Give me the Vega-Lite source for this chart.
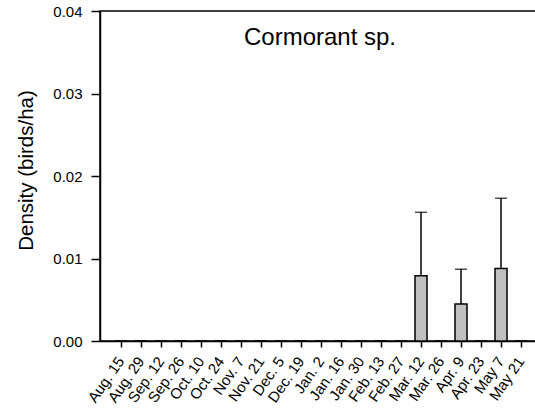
{
  "$schema": "https://vega.github.io/schema/vega-lite/v6.json",
  "width": 440,
  "height": 330,
  "autosize": "none",
  "padding": {"left": 100, "top": 11, "right": 0, "bottom": 71},
  "background": "white",
  "config": {
    "font": "Liberation Sans",
    "view": {"stroke": "black", "strokeWidth": 1.5},
    "axis": {"grid": false, "domainColor": "black", "domainWidth": 1.5, "tickColor": "black", "tickWidth": 1.5, "labelColor": "black", "titleColor": "black", "labelFont": "Liberation Sans", "titleFont": "Liberation Sans", "titleFontWeight": "normal"}
  },
  "title": {"text": "Cormorant sp.", "orient": "top", "anchor": "middle", "frame": "group", "fontSize": 24, "fontWeight": "normal", "font": "Liberation Sans", "color": "black", "baseline": "top", "offset": -46},
  "data": {"values": [
    {"date": "Aug. 15", "density": 0, "upper": null},
    {"date": "Aug. 29", "density": 0, "upper": null},
    {"date": "Sep. 12", "density": 0, "upper": null},
    {"date": "Sep. 26", "density": 0, "upper": null},
    {"date": "Oct. 10", "density": 0, "upper": null},
    {"date": "Oct. 24", "density": 0, "upper": null},
    {"date": "Nov. 7", "density": 0, "upper": null},
    {"date": "Nov. 21", "density": 0, "upper": null},
    {"date": "Dec. 5", "density": 0, "upper": null},
    {"date": "Dec. 19", "density": 0, "upper": null},
    {"date": "Jan. 2", "density": 0, "upper": null},
    {"date": "Jan. 16", "density": 0, "upper": null},
    {"date": "Jan. 30", "density": 0, "upper": null},
    {"date": "Feb. 13", "density": 0, "upper": null},
    {"date": "Feb. 27", "density": 0, "upper": null},
    {"date": "Mar. 12", "density": 0.0079, "upper": 0.0156},
    {"date": "Mar. 26", "density": 0, "upper": null},
    {"date": "Apr. 9", "density": 0.0045, "upper": 0.0087},
    {"date": "Apr. 23", "density": 0, "upper": null},
    {"date": "May 7", "density": 0.0088, "upper": 0.0173},
    {"date": "May 21", "density": 0, "upper": null}
  ]},
  "encoding": {
    "x": {"field": "date", "type": "nominal", "sort": null,
      "scale": {"domain": ["Aug. 15", "Aug. 29", "Sep. 12", "Sep. 26", "Oct. 10", "Oct. 24", "Nov. 7", "Nov. 21", "Dec. 5", "Dec. 19", "Jan. 2", "Jan. 16", "Jan. 30", "Feb. 13", "Feb. 27", "Mar. 12", "Mar. 26", "Apr. 9", "Apr. 23", "May 7", "May 21"], "paddingInner": 0.4, "paddingOuter": 0.7, "align": 0.536},
      "axis": {"title": null, "labelAngle": -55, "labelFontSize": 15, "tickSize": 6, "labelPadding": 11, "domain": true}}
  },
  "layer": [
    {
      "mark": {"type": "bar", "fill": "#c0c0c0", "stroke": "black", "strokeWidth": 1.5},
      "encoding": {
        "y": {"field": "density", "type": "quantitative",
          "scale": {"domain": [0, 0.04], "nice": false},
          "axis": {"title": "Density (birds/ha)", "values": [0, 0.01, 0.02, 0.03, 0.04], "format": ".2f", "labelFontSize": 15, "titleFontSize": 20.5, "tickSize": 9, "labelPadding": 9, "titlePadding": 16, "titleY": 159}}
      }
    },
    {
      "transform": [{"filter": "datum.upper != null"}],
      "mark": {"type": "rule", "color": "black", "strokeWidth": 1.5},
      "encoding": {
        "y": {"field": "density", "type": "quantitative"},
        "y2": {"field": "upper"}
      }
    },
    {
      "transform": [{"filter": "datum.upper != null"}],
      "mark": {"type": "tick", "color": "black", "thickness": 1.5, "size": 12, "orient": "horizontal"},
      "encoding": {
        "y": {"field": "upper", "type": "quantitative"}
      }
    }
  ]
}
